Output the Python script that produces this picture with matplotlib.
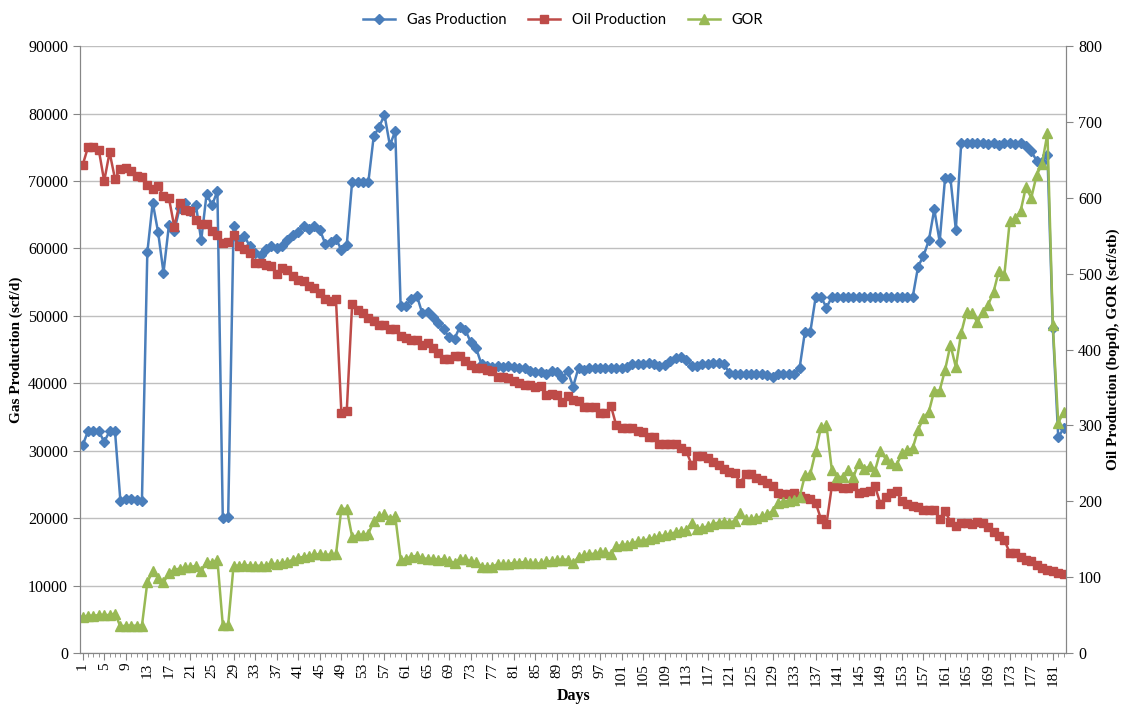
import numpy as np
import matplotlib.pyplot as plt
from matplotlib.ticker import MultipleLocator

plt.rcParams['font.family'] = ['Liberation Serif', 'DejaVu Serif']

# daily well test data
days = np.arange(1, 184)

gas = [30800, 32900, 32900, 32900, 31300, 32900, 32900, 22600, 22800, 22800,
       22700, 22500, 59400, 66800, 62400, 56400, 63400, 62600, 66000, 66700,
       65500, 66500, 61200, 68100, 66400, 68500, 20000, 20200, 63300, 61300,
       61900, 60300, 59300, 59000, 59900, 60400, 60000, 60300, 61300, 62000,
       62500, 63300, 62900, 63300, 62800, 60700, 60900, 61400, 59800, 60500,
       69900, 69900, 69900, 69800, 76600, 78000, 79800, 75300, 77400, 51400,
       51500, 52500, 53000, 50400, 50600, 49800, 48900, 48000, 46800, 46600,
       48400, 47900, 46100, 45200, 42800, 42500, 42400, 42500, 42400, 42500,
       42400, 42300, 42300, 41800, 41600, 41700, 41300, 41800, 41700, 40800,
       41800, 39500, 42300, 41900, 42300, 42200, 42200, 42300, 42300, 42300,
       42200, 42400, 42900, 42900, 42900, 43000, 42800, 42600, 42700, 43300,
       43800, 43900, 43500, 42600, 42500, 42800, 42900, 43000, 43000, 42800,
       41500, 41400, 41400, 41400, 41400, 41400, 41300, 41200, 41000, 41300,
       41300, 41300, 41300, 42200, 47600, 47600, 52800, 52800, 51200, 52800,
       52800, 52800, 52800, 52800, 52800, 52800, 52800, 52800, 52800, 52800,
       52800, 52800, 52800, 52800, 52800, 57300, 58900, 61200, 65800, 61000,
       70400, 70400, 62800, 75600, 75600, 75600, 75600, 75600, 75500, 75600,
       75300, 75600, 75600, 75500, 75600, 75200, 74400, 73000, 72800, 73900,
       48200, 32000, 33300]

oil = [643, 667, 667, 663, 622, 660, 625, 638, 639, 636,
       629, 628, 617, 612, 616, 602, 600, 562, 593, 584,
       582, 571, 566, 565, 556, 551, 540, 542, 551, 536,
       533, 527, 514, 514, 512, 510, 499, 508, 505, 497,
       492, 490, 484, 481, 475, 466, 464, 466, 317, 319,
       460, 452, 448, 442, 437, 433, 433, 427, 427, 418,
       415, 413, 412, 406, 409, 402, 396, 387, 387, 391,
       391, 385, 380, 376, 376, 373, 372, 364, 364, 363,
       358, 356, 353, 353, 351, 352, 340, 342, 340, 331,
       339, 334, 332, 324, 324, 324, 316, 316, 326, 300,
       296, 296, 296, 293, 291, 285, 285, 276, 276, 275,
       275, 270, 266, 248, 260, 260, 257, 252, 248, 242,
       239, 237, 224, 236, 236, 231, 228, 224, 220, 211,
       209, 209, 211, 207, 204, 203, 198, 176, 170, 220,
       220, 218, 217, 220, 211, 212, 214, 220, 197, 206,
       211, 213, 200, 196, 194, 192, 189, 188, 188, 177,
       187, 173, 167, 172, 172, 170, 173, 171, 166, 160,
       154, 149, 132, 132, 127, 123, 121, 116, 112, 109,
       108, 106, 104]

gor = [48, 49, 49, 50, 50, 50, 52, 35, 36, 36,
       36, 36, 93, 108, 99, 93, 105, 110, 111, 113,
       113, 115, 108, 120, 119, 123, 37, 37, 115, 115,
       116, 115, 115, 115, 115, 118, 117, 119, 120, 123,
       125, 127, 128, 130, 130, 129, 130, 130, 190, 190,
       153, 155, 156, 157, 174, 180, 183, 177, 180, 123,
       124, 127, 128, 125, 124, 124, 123, 124, 121, 119,
       124, 124, 121, 120, 114, 114, 114, 117, 117, 117,
       119, 119, 120, 118, 118, 118, 121, 121, 122, 123,
       123, 118, 127, 129, 130, 131, 133, 133, 130, 141,
       142, 143, 145, 147, 148, 150, 152, 154, 155, 157,
       159, 161, 162, 172, 164, 165, 167, 170, 172, 173,
       172, 174, 184, 176, 176, 178, 180, 183, 187, 198,
       199, 201, 202, 205, 234, 236, 266, 298, 300, 241,
       232, 232, 241, 232, 251, 243, 246, 240, 266, 256,
       250, 248, 263, 267, 270, 294, 310, 318, 346, 346,
       373, 406, 377, 422, 450, 448, 436, 450, 459, 476,
       504, 498, 569, 573, 582, 614, 600, 630, 645, 685,
       432, 303, 318]

fig = plt.figure(figsize=(11.26, 7.09), dpi=100)
ax = fig.add_axes([0.071, 0.079, 0.876, 0.856])
ax2 = ax.twinx()

l1, = ax.plot(days, gas, color='#4A7EBB', marker='D', ms=5, lw=1.8,
              label='Gas Production')
l2, = ax2.plot(days, oil, color='#BE4B48', marker='s', ms=6, lw=1.8,
               label='Oil Production')
l3, = ax2.plot(days, gor, color='#98B954', marker='^', ms=7, lw=1.8,
               label='GOR')

ax.set_xlim(0.5, 183.5)
ax.set_ylim(0, 90000)
ax2.set_ylim(0, 800)
ax.yaxis.set_major_locator(MultipleLocator(10000))
ax2.yaxis.set_major_locator(MultipleLocator(100))
ax.set_xticks(days[::4])
ax.set_xticklabels([str(d) for d in days[::4]], rotation=90)
ax.xaxis.set_minor_locator(MultipleLocator(1))

ax.grid(axis='y', color='#BFBFBF', lw=1)
ax.set_axisbelow(True)

for a in (ax, ax2):
    a.spines['top'].set_visible(False)
    for s in ('left', 'right', 'bottom'):
        a.spines[s].set_color('#868686')
    a.tick_params(axis='y', which='both', color='#868686', labelsize=11.5)
    a.tick_params(axis='x', which='both', color='#868686', labelsize=11, pad=2)
    a.tick_params(axis='both', which='major', length=5)
    a.tick_params(axis='x', which='minor', length=3)

ax.set_xlabel('Days', fontsize=11.5, fontweight='bold', labelpad=2)
ax.set_ylabel('Gas Production (scf/d)', fontsize=11, fontweight='bold', labelpad=4)
ax2.set_ylabel('Oil Production (bopd), GOR (scf/stb)', fontsize=11,
               fontweight='bold', rotation=90, labelpad=3)

fig.legend(handles=[l1, l2, l3], loc='upper center', bbox_to_anchor=(0.5, 1.0),
           ncol=3, frameon=False, prop={'family': 'Lato', 'size': 10.5},
           handlelength=2.2, columnspacing=1.5)

fig.savefig('out.png', dpi=100)
